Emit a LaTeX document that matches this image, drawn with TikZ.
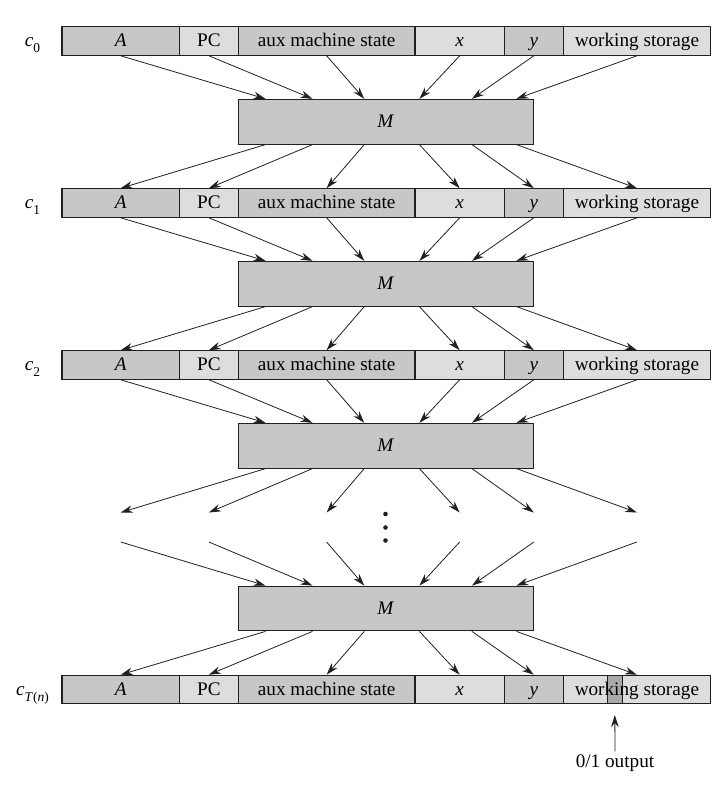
\documentclass[tikz,border=0pt]{standalone}
\usepackage{fontspec}
\setmainfont{Liberation Serif}
\usetikzlibrary{arrows.meta,calc}
\definecolor{dk}{HTML}{C6C7C9}
\definecolor{lt}{HTML}{DCDDDF}
\definecolor{outc}{HTML}{A8A9AB}
\definecolor{ln}{HTML}{231F20}
\tikzset{
  cell/.style={draw=ln, line width=1.1pt, minimum height=28.5pt, inner sep=0pt,
    font=\fontsize{19.2}{22}\selectfont, text height=15.5pt, text depth=4pt},
  mbox/.style={draw=ln, line width=1.1pt, fill=dk, minimum width=295pt, minimum height=44.7pt,
    inner sep=0pt, font=\fontsize{19.2}{22}\selectfont, text height=15pt, text depth=4pt},
  arr/.style={draw=ln, line width=0.8pt, -{Stealth[length=12pt,width=7.5pt,inset=4pt]}},
  rlab/.style={font=\fontsize{19.2}{22}\selectfont, inner sep=0pt, anchor=base},
  plain/.style={font=\fontsize{19.2}{22}\selectfont, inner sep=0pt},
}
\newcommand\mkrow[3]{%
  \node[cell,fill=dk,minimum width=117.5pt] (#1c1) at (120.75,#2) {\textit{A}};
  \node[cell,fill=lt,minimum width=58.8pt]  (#1c2) at (208.9,#2) {PC};
  \node[cell,fill=dk,minimum width=176.7pt] (#1c3) at (326.65,#2) {aux machine state};
  \node[cell,fill=lt,minimum width=89.3pt]  (#1c4) at (459.65,#2) {\textit{x}};
  \node[cell,fill=dk,minimum width=59pt]    (#1c5) at (533.8,#2) {\textit{y}};
  \node[cell,fill=lt,minimum width=147.2pt] (#1c6) at (636.9,#2) {#3};
}
\begin{document}
\begin{tikzpicture}[x=1pt,y=-1pt]
\useasboundingbox (0,0) rectangle (712,790);
% rows
\mkrow{r0}{41}{working storage}
\mkrow{r1}{203}{working storage}
\mkrow{r2}{365}{working storage}
\mkrow{rT}{689.5}{}
% output cell in last row
\node[draw=ln, line width=1.1pt, fill=outc, minimum width=15pt, minimum height=28.5pt, inner sep=0pt] (outcell) at (614.8,689.5) {};
\node[cell, draw=none, minimum width=147.2pt] (rTws) at (636.9,689.5) {working storage};
% row labels
\node[rlab] (l0) at (32.5,46.8) {\textit{c}\raisebox{-0.3em}{\fontsize{13.5}{15}\selectfont 0}};
\node[rlab] (l1) at (32.5,208.8) {\textit{c}\raisebox{-0.3em}{\fontsize{13.5}{15}\selectfont 1}};
\node[rlab] (l2) at (32.5,370.8) {\textit{c}\raisebox{-0.3em}{\fontsize{13.5}{15}\selectfont 2}};
\node[rlab] (lT) at (32.5,695.3) {\textit{c}\raisebox{-0.3em}{\fontsize{13.5}{15}\selectfont\textit{T}(\textit{n})}};
% M boxes
\node[mbox] (m0) at (385.8,121.7) {\textit{M}};
\node[mbox] (m1) at (385.8,283.7) {\textit{M}};
\node[mbox] (m2) at (385.8,445.7) {\textit{M}};
\node[mbox] (m3) at (385.8,608.5) {\textit{M}};
% virtual row in the gap
\foreach \j/\xc in {1/120.75,2/208.9,3/326.65,4/459.65,5/533.8,6/636.9}{
  \coordinate (vt\j) at (\xc,512.5);
  \coordinate (vb\j) at (\xc,542);
}
% attachment offsets on M boxes
\foreach \m in {m0,m1,m2,m3}{
  \foreach \j/\dx in {1/27.7,2/74.7,3/126.5,4/181.7,5/234.2,6/278.7}{
    \coordinate (\m t\j) at ($(\m.north west)+(\dx,0)$);
    \coordinate (\m b\j) at ($(\m.south west)+(\dx,0)$);
  }
}
% arrows
\foreach \j in {1,...,6}{
  \draw[arr] (r0c\j.south) -- (m0t\j);
  \draw[arr] (m0b\j) -- (r1c\j.north);
  \draw[arr] (r1c\j.south) -- (m1t\j);
  \draw[arr] (m1b\j) -- (r2c\j.north);
  \draw[arr] (r2c\j.south) -- (m2t\j);
  \draw[arr] (m2b\j) -- (vt\j);
  \draw[arr] (vb\j) -- (m3t\j);
  \draw[arr] (m3b\j) -- (rTc\j.north);
}
% dots
\foreach \k/\yy in {1/514,2/527.5,3/540.5}{
  \fill[ln] (385.5,\yy) circle (2.3pt);
}
% output
\node[plain] (outlbl) at (615,763) {0/1 output};
\coordinate (outtip) at (614.8,715);
\draw[arr] ($(outlbl.north)+(0,-3)$) -- (outtip);
\end{tikzpicture}
\end{document}
